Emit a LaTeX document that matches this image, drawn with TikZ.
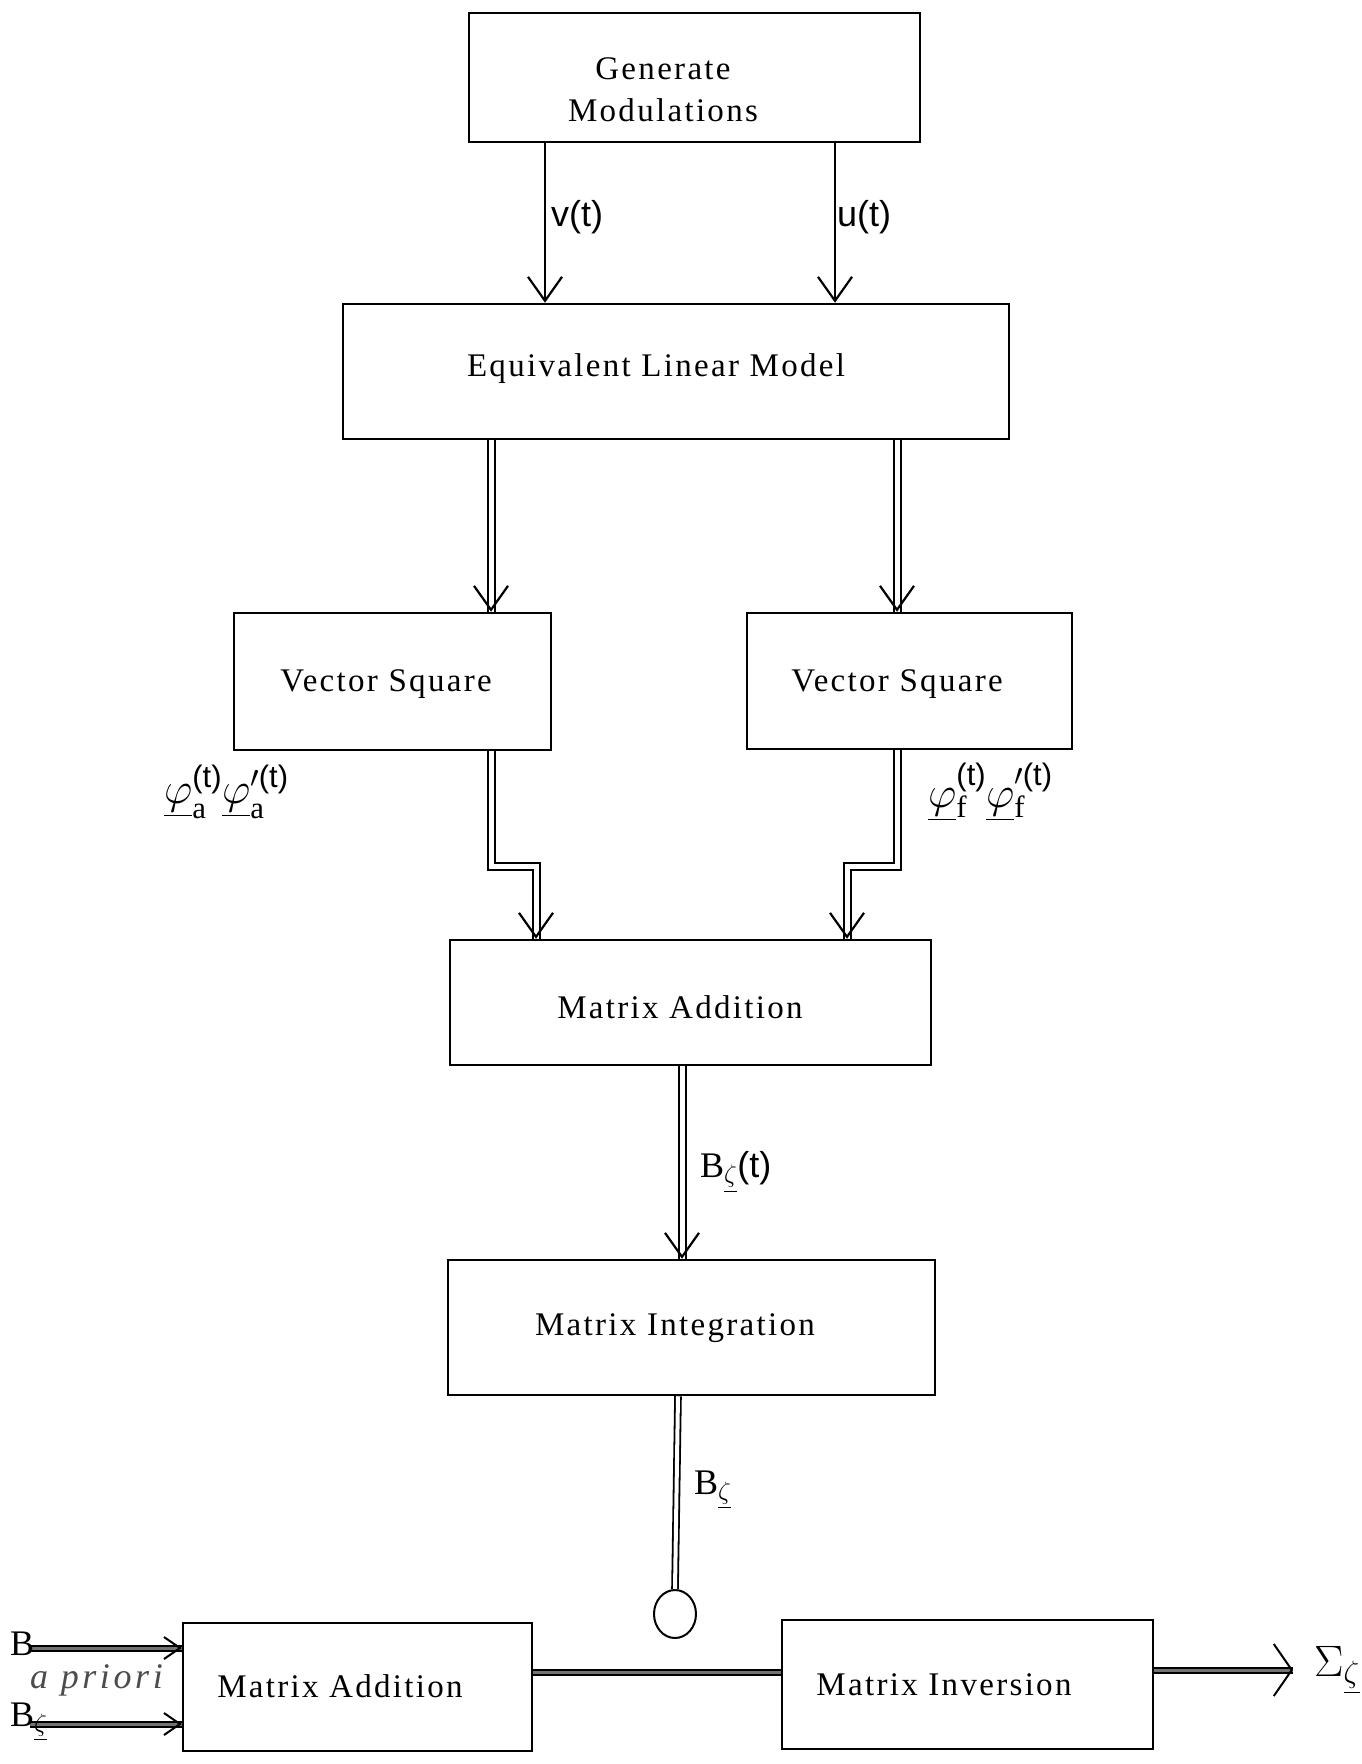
\documentclass[tikz,border=0pt]{standalone}
\usepackage{fix-cm}
\usepackage{amsmath}
\usepackage{fontspec}
\setmainfont{Liberation Serif}
\setsansfont{Liberation Sans}
\usetikzlibrary{arrows.meta,shapes.geometric,calc}
\newcommand{\smallt}{\text{\sffamily\fontsize{31}{34}\selectfont(t)}}
\begin{document}
\begin{tikzpicture}[x=1pt,y=-1pt,
  box/.style={draw, line width=2.5pt, inner sep=0pt},
  txt/.style={font=\fontsize{33}{42}\selectfont\addfontfeatures{LetterSpace=7}, align=center, inner sep=0pt},
  lab/.style={font=\fontsize{36}{42}\selectfont, inner sep=0pt},
  philab/.style={font=\fontsize{44}{50}\selectfont, inner sep=0pt},
  sarrow/.style={line width=2.2pt, -{Straight Barb[length=24pt,width=34pt,line width=2.2pt]}},
  dbl/.style={line width=2pt, double distance=5pt},
  dkdbl/.style={line width=2pt, double=black!55, double distance=3pt},
  vtip/.style={line width=2.2pt, -{Straight Barb[length=24pt,width=34pt,line width=2.2pt]}},
  stip/.style={line width=2pt, -{Straight Barb[length=16pt,width=22pt,line width=2pt]}},
  otip/.style={line width=2pt, -{Straight Barb[length=18pt,width=52pt,line width=2pt]}}
]
\useasboundingbox[fill=white] (0,0) rectangle (1362,1764);

% boxes
\node[box, minimum width=451pt, minimum height=129pt] (gen) at (694.5,77.5) {};
\node[box, minimum width=666pt, minimum height=135pt] (elm) at (676,371.5) {};
\node[box, minimum width=317pt, minimum height=137pt] (vsl) at (392.5,681.5) {};
\node[box, minimum width=325pt, minimum height=136pt] (vsr) at (909.5,681) {};
\node[box, minimum width=481pt, minimum height=125pt] (mam) at (690.5,1002.5) {};
\node[box, minimum width=487pt, minimum height=135pt] (mi) at (691.5,1327.5) {};
\node[box, minimum width=349pt, minimum height=128pt] (mab) at (357.5,1687) {};
\node[box, minimum width=371pt, minimum height=129pt] (minv) at (967.5,1684.5) {};
\node[draw, ellipse, line width=2pt, minimum width=42pt, minimum height=48pt, inner sep=0pt] (circ) at (675,1614) {};

% box texts
\node[txt] (gent) at (663,90) {Generate\\Modulations};
\node[txt] (elmt) at (656,369) {Equivalent Linear Model};
\node[txt] (vslt) at (386,684) {Vector Square};
\node[txt] (vsrt) at (897,684) {Vector Square};
\node[txt] (mamt) at (680,1007) {Matrix Addition};
\node[txt] (mit) at (675,1328) {Matrix Integration};
\node[txt] (mabt) at (340,1686) {Matrix Addition};
\node[txt] (minvt) at (944,1685) {Matrix Inversion};

% helper coordinates
\coordinate (xv) at (545,0);
\coordinate (xu) at (835,0);
\coordinate (xl) at (491,0);
\coordinate (xr) at (897,0);
\coordinate (xl2) at (536,0);
\coordinate (xr2) at (847,0);
\coordinate (xm) at (682,0);
\coordinate (xb) at (678,0);
\coordinate (ys) at (0,866);
\coordinate (yl) at (0,1672);
\coordinate (outend) at (1293,1670);
\coordinate (in1) at (30,1648);
\coordinate (in2) at (30,1724);

% connectors
\draw[sarrow] (gen.south -| xv) -- (elm.north -| xv);
\draw[sarrow] (gen.south -| xu) -- (elm.north -| xu);

\draw[dbl] (elm.south -| xl) -- (vsl.north -| xl);
\draw[vtip] ($(vsl.north -| xl)+(0,-2)$) -- (vsl.north -| xl);
\draw[dbl] (elm.south -| xr) -- (vsr.north -| xr);
\draw[vtip] ($(vsr.north -| xr)+(0,-2)$) -- (vsr.north -| xr);

\draw[dbl] (vsl.south -| xl) |- (ys -| xl2) -- (mam.north -| xl2);
\draw[vtip] ($(mam.north -| xl2)+(0,-2)$) -- (mam.north -| xl2);
\draw[dbl] (vsr.south -| xr) |- (ys -| xr2) -- (mam.north -| xr2);
\draw[vtip] ($(mam.north -| xr2)+(0,-2)$) -- (mam.north -| xr2);

\draw[dbl] (mam.south -| xm) -- (mi.north -| xm);
\draw[vtip] ($(mi.north -| xm)+(0,-2)$) -- (mi.north -| xm);

\draw[line width=1.8pt, double distance=4pt] (mi.south -| xb) -- (circ.north);

\draw[dkdbl] (mab.east |- yl) -- (minv.west |- yl);

\draw[dkdbl] (minv.east |- outend) -- (outend);
\draw[otip] ($(outend)+(-2,0)$) -- (outend);

\draw[dkdbl] (in1) -- (mab.west |- in1);
\draw[stip] ($(mab.west |- in1)+(-2,0)$) -- (mab.west |- in1);
\draw[dkdbl] (in2) -- (mab.west |- in2);
\draw[stip] ($(mab.west |- in2)+(-2,0)$) -- (mab.west |- in2);

% labels
\node[lab, anchor=west] (vlab) at (551,217) {\sffamily v(t)};
\node[lab, anchor=west] (ulab) at (837,217) {\sffamily u(t)};
\node[philab, anchor=west] (phia) at (164,792) {$\underline{\varphi}_{\mathrm{a}}^{\smallt}\underline{\varphi}_{\mathrm{a}}^{\prime\smallt}$};
\node[philab, anchor=west] (phif) at (928,792) {$\underline{\varphi}_{\mathrm{f}}^{\smallt}\underline{\varphi}_{\mathrm{f}}^{\prime\smallt}$};
\node[lab, anchor=west] (bzt) at (700,1172) {B$_{\underline{\zeta}}$\textsf{(t)}};
\node[lab, anchor=west] (bz) at (694,1490) {B$_{\underline{\zeta}}$};
\node[lab, anchor=west, text depth=0pt] (bap) at (10,1644) {B};
\node[lab, anchor=west, text=black!70, text height=0.5em, text depth=0pt] (apr) at (30,1686) {\itshape\addfontfeatures{LetterSpace=10}a priori};
\node[lab, anchor=west] (bz2) at (10,1722) {B$_{\underline{\zeta}}$};
\node[lab, anchor=west, font=\fontsize{44}{50}\selectfont] (sig) at (1314,1670) {$\Sigma_{\underline{\zeta}}$};
\end{tikzpicture}
\end{document}
